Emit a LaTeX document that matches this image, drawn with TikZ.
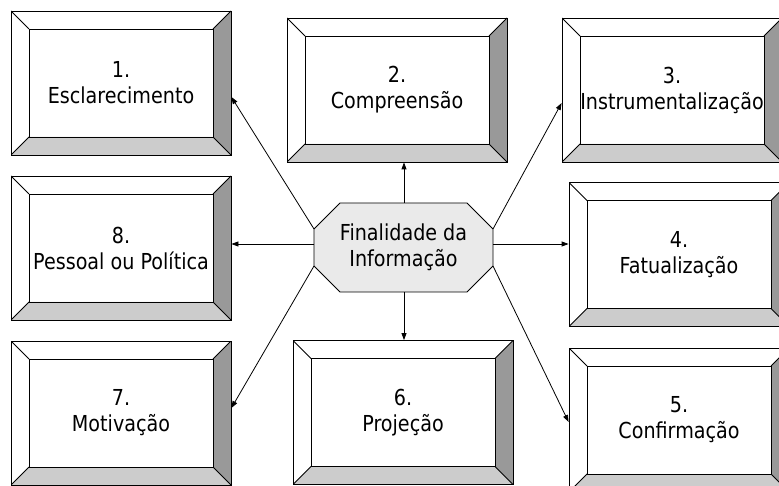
\documentclass[tikz,border=0pt]{standalone}
\usepackage{fontspec}
\setmainfont{DejaVu Sans}[FakeStretch=0.87]
\usetikzlibrary{arrows.meta}
\definecolor{bevdark}{HTML}{999999}
\definecolor{bevlight}{HTML}{CCCCCC}
\definecolor{octfill}{HTML}{EAEAEA}
\begin{document}
\begin{tikzpicture}[x=1pt,y=-1pt,
  txt/.style={font=\fontsize{22}{26}\selectfont, align=center},
  bevbox/.style={rectangle, draw=black, line width=0.8pt, fill=white,
    minimum width=220pt, minimum height=144pt, inner sep=0pt, txt,
    path picture={
      \path (path picture bounding box.north west) coordinate (bNW)
            (path picture bounding box.north east) coordinate (bNE)
            (path picture bounding box.south west) coordinate (bSW)
            (path picture bounding box.south east) coordinate (bSE);
      \fill[bevdark] (bNE) -- (bSE) -- ([shift={(-18pt,18pt)}]bSE) -- ([shift={(-18pt,-18pt)}]bNE) -- cycle;
      \fill[bevlight] (bSW) -- (bSE) -- ([shift={(-18pt,18pt)}]bSE) -- ([shift={(18pt,18pt)}]bSW) -- cycle;
      \draw[line width=0.8pt] ([shift={(18pt,-18pt)}]bNW) rectangle ([shift={(-18pt,18pt)}]bSE);
      \draw[line width=0.8pt] (bNW) -- ([shift={(18pt,-18pt)}]bNW)
                              (bNE) -- ([shift={(-18pt,-18pt)}]bNE)
                              (bSW) -- ([shift={(18pt,18pt)}]bSW)
                              (bSE) -- ([shift={(-18pt,18pt)}]bSE);
    }},
  arr/.style={draw=black, line width=0.8pt, -{Triangle[length=7pt,width=5pt]}}
]
\useasboundingbox (0,0) rectangle (779,486);
\clip (0,0) rectangle (779,486);

% boxes
\node[bevbox] (b1) at (121,83)    {1.\\Esclarecimento};
\node[bevbox] (b2) at (397,90)    {2.\\Compreensão};
\node[bevbox] (b3) at (672,90)    {3.\\Instrumentalização};
\node[bevbox] (b4) at (679,254.5) {4.\\Fatualização};
\node[bevbox] (b5) at (679,420)   {5.\\Confirmação};
\node[bevbox] (b6) at (403,412.5) {6.\\Projeção};
\node[bevbox] (b7) at (121,413)   {7.\\Motivação};
\node[bevbox] (b8) at (121,248)   {8.\\Pessoal ou Política};

% octagon
\coordinate (o1) at (340,203);
\coordinate (o2) at (467,203);
\coordinate (o3) at (493,229);
\coordinate (o4) at (493,266);
\coordinate (o5) at (467,292);
\coordinate (o6) at (340,292);
\coordinate (o7) at (314,266);
\coordinate (o8) at (314,229);
\coordinate (oT) at (404,203);
\coordinate (oB) at (404,292);
\coordinate (oL) at (314,244);
\coordinate (oR) at (493,244);
\filldraw[fill=octfill, draw=black, line width=0.8pt]
  (o1) -- (o2) -- (o3) -- (o4) -- (o5) -- (o6) -- (o7) -- (o8) -- cycle;
\node[txt, inner sep=0pt] (c) at (403.5,247.5) {Finalidade da\\Informação};

% connectors
\draw[arr] (oT) -- (oT |- b2.south);
\draw[arr] (oB) -- (oB |- b6.north);
\draw[arr] (oL) -- (oL -| b8.east);
\draw[arr] (oR) -- (oR -| b4.west);
\draw[arr] (o8) -- ([yshift=-14pt]b1.east);
\draw[arr] (o3) -- ([yshift=-13pt]b3.west);
\draw[arr] (o7) -- ([yshift=5pt]b7.east);
\draw[arr] (o4) -- ([yshift=-2pt]b5.west);
\end{tikzpicture}
\end{document}
